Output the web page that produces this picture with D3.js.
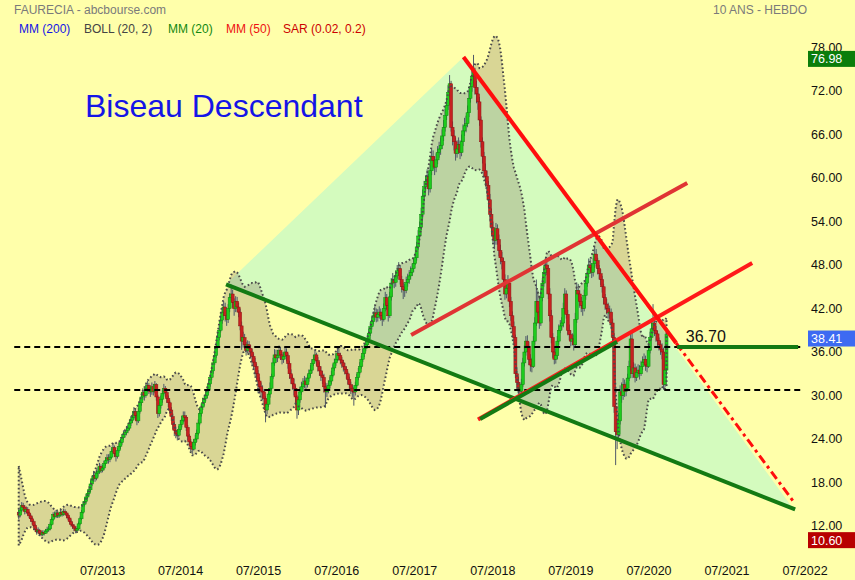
<!DOCTYPE html>
<html><head><meta charset="utf-8">
<script src="https://cdn.jsdelivr.net/npm/d3@7"></script>
<style>html,body{margin:0;padding:0;background:#ffffaa;} svg{display:block;font-family:"Liberation Sans",Arial,sans-serif;}</style>
</head><body>
<svg id="chart" width="855" height="580"></svg>
<script>
// ---------- DATA (weekly) ----------
const firstWeek = "2012-06-04";
// 19 weeks before the first visible candle (only feed the Bollinger start)
const warmupCloses = [20.6,20.0,19.6,18.4,17.2,16.0,15.0,14.2,13.5,13.0,12.6,12.2,12.7,13.2,12.5,12.1,12.6,13.2,13.9];
const closes = [
13.5,14.2,14.8,14.6,14.0,14.3,13.8,13.4,13.0,12.6,
12.1,11.5,11.2,11.4,11.0,10.8,11.1,11.0,11.3,11.5,
11.6,12.2,12.9,13.6,13.3,13.8,13.4,13.5,13.9,13.6,
14.0,13.8,13.5,13.1,12.6,12.2,12.0,11.7,11.4,11.6,
12.3,13.0,13.9,15.0,15.4,16.0,16.5,17.0,17.8,18.5,
19.0,18.6,19.3,19.5,20.2,19.7,20.0,20.6,21.0,21.4,
21.2,21.5,22.3,22.8,22.0,21.6,22.4,23.0,23.5,24.2,
24.6,24.9,25.2,25.5,26.2,26.6,27.0,27.8,27.2,26.5,
27.8,29.0,29.8,30.4,30.0,31.0,31.4,30.8,30.5,31.2,
30.6,31.5,29.8,27.5,28.6,29.5,30.3,31.0,30.4,29.6,
29.0,28.0,27.1,26.0,25.2,24.8,24.5,25.3,26.0,26.6,
27.2,27.0,25.6,24.4,23.6,23.0,22.6,23.5,24.0,24.8,
26.2,27.5,28.4,29.0,29.6,30.0,30.8,31.6,32.5,33.4,
34.5,35.5,36.8,38.0,39.0,40.4,41.5,42.2,41.0,40.5,
42.0,43.5,44.0,42.8,42.0,43.0,42.2,41.5,39.6,37.5,
38.0,37.0,36.2,37.0,36.5,36.0,35.4,34.6,34.0,33.0,
32.0,31.2,30.6,30.5,29.6,28.0,28.8,30.2,31.0,32.6,
34.5,35.6,35.2,35.5,36.2,35.6,35.0,35.4,36.0,35.5,
34.4,33.0,32.4,31.6,31.0,29.8,28.0,29.4,30.5,31.2,
31.6,32.0,31.5,32.4,33.0,33.5,34.4,35.0,35.6,34.8,
34.0,33.4,32.8,32.5,31.2,30.5,30.9,31.4,32.0,32.8,
33.8,34.5,35.0,35.8,35.5,34.9,34.5,34.0,33.6,33.0,
32.2,31.5,31.0,30.6,30.5,31.4,32.5,33.2,34.0,35.0,
35.8,36.5,37.0,37.8,38.6,39.5,40.2,41.0,41.4,40.8,
41.2,41.5,41.0,40.5,42.0,43.5,42.4,41.0,43.6,45.5,
46.0,45.6,46.5,47.2,47.5,46.0,45.0,44.6,44.5,45.6,
46.0,46.5,47.0,47.5,48.2,49.0,50.5,52.0,53.2,55.0,
57.5,58.8,59.5,60.2,58.5,61.0,63.0,62.4,61.5,62.5,
63.5,64.0,64.5,65.8,67.0,68.6,70.0,71.8,73.0,67.0,
65.8,65.0,63.4,64.0,64.6,63.5,65.0,66.5,67.2,67.5,
69.0,71.0,72.6,74.0,74.5,72.5,71.6,70.5,68.0,65.0,
63.0,61.0,60.2,59.0,57.0,55.0,53.2,52.0,51.4,53.0,
51.5,50.0,49.0,48.5,46.0,44.0,44.8,45.5,43.0,41.0,
39.5,38.0,33.0,31.8,31.0,30.6,31.5,34.5,36.0,37.5,
36.8,35.0,34.2,34.0,37.5,40.0,43.0,41.5,40.0,43.5,
45.5,47.0,48.0,47.5,44.0,41.0,38.0,36.0,35.0,35.5,
37.5,39.0,39.6,40.0,42.0,44.0,41.2,39.0,38.4,37.5,
37.8,37.0,40.5,44.5,44.0,43.0,42.4,42.0,43.8,45.5,
46.8,48.0,47.6,47.0,48.2,49.5,48.6,47.5,46.8,46.0,
45.0,43.5,42.6,42.0,41.4,41.5,40.0,38.0,28.5,25.0,
24.6,26.5,30.5,30.0,31.5,30.6,31.0,32.4,34.0,37.8,
33.0,33.8,32.5,33.2,33.5,33.0,34.0,34.6,35.0,34.2,
34.0,36.2,38.0,39.2,40.0,39.0,38.5,37.6,37.0,36.4,
36.0,31.5,33.5,38.41];
const highs = [
14.3,14.6,15.3,15.2,14.9,14.7,14.6,14.0,13.7,13.3,
12.8,12.3,11.8,11.8,11.6,11.3,11.4,11.4,11.6,11.9,
12.0,12.5,13.2,13.9,14.0,14.2,14.0,13.9,14.3,14.1,
14.4,14.3,14.0,13.7,13.3,12.9,12.5,12.2,11.9,12.0,
12.6,13.3,14.2,15.4,15.9,16.4,16.9,17.5,18.3,18.9,
19.6,19.4,19.8,20.1,20.7,20.5,20.4,21.0,21.5,21.9,
21.9,22.0,22.7,23.4,23.1,22.4,22.8,23.5,24.0,24.7,
25.2,25.4,25.8,26.0,26.7,27.2,27.5,28.4,28.2,27.5,
28.3,29.5,30.4,31.0,30.9,31.6,32.0,31.7,31.2,31.8,
31.6,32.0,31.7,30.1,29.1,30.0,30.8,31.6,31.3,30.7,
30.0,29.3,28.4,27.5,26.4,25.7,25.3,25.8,26.6,27.2,
27.8,27.8,27.3,25.9,24.7,24.0,23.4,24.0,24.6,25.3,
26.7,28.0,28.9,29.7,30.1,30.6,31.3,32.1,33.0,34.0,
35.1,36.2,37.4,38.7,39.7,41.0,42.2,43.0,42.8,41.8,
42.6,44.1,45.3,44.6,43.4,43.7,43.6,42.8,42.0,40.2,
38.8,38.5,37.4,37.6,37.5,37.0,36.4,35.8,35.2,34.4,
33.5,32.5,31.8,31.4,30.9,29.9,29.4,30.8,31.8,33.0,
35.2,36.4,36.3,36.3,36.9,36.7,36.0,35.9,36.7,36.5,
35.8,34.8,33.6,32.8,32.3,31.4,30.1,29.9,31.2,31.9,
32.4,32.7,32.5,32.9,33.6,34.2,35.0,35.6,36.4,35.9,
35.3,34.6,34.0,33.4,33.0,31.8,31.7,32.1,32.6,33.4,
34.3,35.1,35.8,36.6,36.5,35.9,35.3,34.9,34.5,34.0,
33.3,32.6,31.9,31.5,31.2,31.9,33.0,33.8,34.6,35.5,
36.4,37.2,37.6,38.4,39.2,40.1,40.8,41.6,42.3,42.0,
41.9,42.3,42.0,41.6,42.7,44.3,44.0,42.8,44.3,46.2,
46.9,46.6,47.2,48.0,48.4,48.0,46.5,45.6,45.4,46.4,
46.8,47.3,47.8,48.2,48.9,49.7,51.2,52.8,54.0,55.9,
58.4,59.6,60.4,61.2,60.6,61.8,64.0,63.8,63.0,63.4,
64.4,65.0,65.6,66.7,68.0,69.5,71.0,72.8,74.2,73.4,
67.8,66.6,65.6,65.2,65.6,65.2,66.0,67.4,68.3,68.6,
70.0,72.2,73.6,75.3,76.98,75.2,73.4,72.5,71.2,68.5,
65.6,63.6,62.0,61.0,59.6,57.8,55.8,54.0,53.0,53.8,
53.6,52.2,50.8,49.8,49.0,46.7,45.8,46.6,46.0,43.6,
41.6,40.2,38.4,33.9,32.6,31.8,32.3,35.2,36.9,38.2,
38.3,37.4,35.7,35.2,38.2,40.8,46.0,44.5,42.2,44.5,
46.2,47.8,49.0,48.8,48.0,44.8,41.8,38.6,36.6,36.5,
38.2,39.8,40.4,40.8,42.8,44.8,44.5,41.8,39.8,39.0,
38.6,38.4,41.4,45.6,45.4,44.5,43.6,43.0,44.6,46.2,
47.5,48.9,48.8,48.2,49.0,50.6,50.2,49.0,48.0,47.4,
46.5,45.4,44.0,43.3,42.8,42.4,42.0,40.6,38.6,29.4,
26.8,27.6,31.4,31.8,32.4,32.2,31.8,33.0,34.8,38.6,
38.6,34.6,34.4,34.0,34.3,34.2,34.8,35.4,35.8,35.5,
35.0,36.8,38.8,40.6,42.6,40.6,39.6,38.9,38.0,37.5,
37.2,36.6,34.6,39.2];
const lows = [
12.9,13.2,13.9,14.1,13.6,13.7,13.5,13.1,12.6,12.2,
11.8,11.2,10.8,10.9,10.6,10.6,10.6,10.7,10.9,11.1,
11.2,11.4,12.0,12.7,13.0,13.1,13.1,13.1,13.3,13.3,
13.4,13.5,13.1,12.8,12.3,11.9,11.6,11.3,11.0,11.1,
11.4,12.1,12.8,13.7,14.7,15.1,15.7,16.2,16.7,17.5,
18.1,18.1,18.3,18.8,19.2,19.3,19.4,19.7,20.3,20.6,
20.6,20.8,21.3,21.9,21.5,20.9,21.3,22.1,22.6,23.2,
23.9,24.2,24.5,24.8,25.2,25.8,26.2,26.7,26.6,25.9,
26.2,27.5,28.6,29.4,29.3,29.7,30.5,30.2,29.8,30.1,
30.0,30.3,29.3,26.9,27.1,28.2,29.0,30.0,29.8,29.0,
28.4,27.5,26.5,25.3,24.4,24.1,23.8,24.2,25.0,25.6,
26.3,26.4,25.1,23.8,23.0,22.3,21.9,22.4,23.1,23.6,
24.5,25.9,27.1,28.0,28.6,29.2,29.6,30.4,31.2,32.1,
33.0,34.2,35.2,36.5,37.6,38.7,39.9,41.0,40.2,39.6,
40.0,41.5,43.0,42.1,41.0,41.5,41.5,40.8,39.0,36.3,
36.6,36.4,35.5,35.8,35.7,35.2,34.2,33.6,32.7,32.2,
30.3,30.3,29.6,29.4,28.6,26.3,27.4,28.4,29.7,30.7,
32.3,34.1,34.5,34.6,35.1,34.9,34.3,34.5,35.0,34.7,
33.7,32.3,31.6,30.8,30.0,29.0,26.8,27.3,29.0,30.1,
30.6,31.0,30.8,31.1,31.9,32.6,33.1,34.1,34.6,34.1,
33.3,32.7,32.0,31.6,30.4,28.3,29.8,30.3,31.0,31.6,
32.5,33.4,34.1,34.7,34.8,34.3,33.8,33.3,32.9,32.3,
31.5,30.9,30.2,29.8,28.6,30.0,31.1,32.1,32.9,33.7,
34.6,35.3,36.1,36.6,37.4,38.2,39.1,39.8,40.4,40.1,
40.2,40.6,40.3,39.6,40.2,41.6,41.8,40.2,40.7,43.1,
44.9,44.8,45.0,46.1,46.5,45.3,44.2,43.3,43.6,44.1,
45.0,45.4,46.0,46.5,47.0,48.0,48.6,50.1,51.4,52.8,
54.4,56.8,58.2,58.8,57.6,58.0,60.4,61.2,60.4,60.8,
61.9,62.8,63.2,64.0,65.1,66.4,68.0,69.4,71.2,66.4,
64.5,63.8,62.4,62.8,63.3,62.6,63.0,64.4,65.8,66.3,
67.0,68.4,70.4,71.9,73.1,71.5,70.3,69.4,67.2,64.2,
62.0,60.0,58.8,57.8,55.9,54.0,52.2,50.9,50.2,50.8,
50.8,49.2,48.1,47.4,45.2,43.2,43.4,44.2,42.2,40.3,
38.8,37.2,32.4,30.8,30.2,29.8,30.1,31.2,34.0,35.5,
36.0,34.2,33.3,33.2,33.8,37.0,39.6,40.8,39.2,39.6,
43.0,45.0,46.5,46.6,43.3,40.2,37.2,35.2,34.3,34.4,
35.0,37.0,38.6,39.0,39.4,41.4,40.6,38.3,37.6,36.8,
36.9,36.2,36.6,40.0,43.0,42.1,41.5,41.0,41.6,43.2,
45.0,46.3,46.8,46.2,46.4,47.6,47.8,46.7,46.0,45.2,
44.2,42.6,41.8,41.2,40.6,40.6,39.2,37.2,27.6,20.4,
22.6,23.8,26.0,29.0,29.4,29.8,29.9,30.6,32.0,33.4,
32.4,32.5,31.8,32.0,32.6,32.2,32.7,33.5,34.0,33.4,
33.2,33.8,35.8,37.6,38.6,38.2,37.4,36.8,36.2,35.6,
35.0,30.8,31.2,32.8];

const yTicks = [12,18,24,30,36,42,48,54,60,66,72,78];
const xTickLabels = ["07/2013","07/2014","07/2015","07/2016","07/2017","07/2018","07/2019","07/2020","07/2021","07/2022"];
const legendLabels = ["MM (200)","BOLL (20, 2)","MM (20)","MM (50)","SAR (0.02, 0.2)"];
const legendColors = ["#1414e6","#444444","#118811","#ee1111","#cc0000"];
const headerLeft = "FAURECIA - abcbourse.com";
const headerRight = "10 ANS - HEBDO";
const chartTitle = "Biseau Descendant";

// drawing annotations, in (date, price)
const wedgeFill = [["2015-01-30",45.34],["2018-02-14",76.69],["2022-05-01",14.62]];
const levelLines = [
  {from:"2012-05-14", to:"2022-06-12", value:36.70},
  {from:"2012-05-14", to:"2022-06-12", value:30.76}
];
const trendLines = [
  {a:["2015-01-30",45.34], b:["2022-05-16",14.28], color:"#137a13", w:4, dash:null},
  {a:["2017-06-14",38.34], b:["2020-12-27",59.31], color:"#e03434", w:4, dash:null},
  {a:["2018-04-23",26.69], b:["2021-10-27",48.28], color:"#ff1a1a", w:4, dash:null},
  {a:["2018-05-03",26.76], b:["2020-02-03",37.42], color:"#137a13", w:4, dash:null},
  {a:["2018-02-14",76.69], b:["2020-11-05",37.24], color:"#ff0d0d", w:4, dash:null},
  {a:["2020-11-05",37.24], b:["2022-05-06",15.45], color:"#ff0d0d", w:3, dash:"9,4,3,4"},
  {a:["2020-11-10",36.70], b:["2022-05-30",36.70], color:"#137a13", w:4, dash:null}
];
const levelLabel = {date:"2020-12-20", value:36.70, text:"36.70"};

// ---------- CHART ----------
const W = 855, H = 580;
const svg = d3.select("#chart");
const parse = d3.timeParse("%Y-%m-%d");
svg.append("rect").attr("width",W).attr("height",H).attr("fill","#ffffaa");

const x = d3.scaleTime().domain([parse("2013-07-01"), parse("2022-07-01")]).range([102.5, 805]);
const y = d3.scaleLinear().domain([12,78]).range([526,47.5]);
const start = parse(firstWeek);
const dates = closes.map((c,i)=>d3.timeWeek.offset(start,i));
const opens = closes.map((c,i)=> i ? closes[i-1] : warmupCloses[warmupCloses.length-1]);

// wedge background
const line = d3.line().x(p=>p[0]).y(p=>p[1]);
svg.append("path")
  .attr("d", line(wedgeFill.map(p=>[x(parse(p[0])), y(p[1])])) + "Z")
  .attr("fill","#d4fbbe");

// Bollinger (20, 2)
const all = warmupCloses.concat(closes);
const boll = closes.map((c,i)=>{
  const w = all.slice(i, i+20);
  const m = d3.mean(w);
  const sd = Math.sqrt(d3.mean(w, v=>(v-m)*(v-m)));
  return {d:dates[i], up:m+2*sd, lo:m-2*sd};
});
const poly = boll.map(b=>[x(b.d), y(b.up)]).concat(boll.slice().reverse().map(b=>[x(b.d), y(b.lo)]));
const bandPath = line(poly) + "Z";
svg.append("path").attr("d", bandPath).attr("fill","rgba(140,130,105,0.33)");

// candles
const gw = svg.append("g");
const gb = svg.append("g");
closes.forEach((c,i)=>{
  const o = opens[i];
  const cx = x(dates[i]);
  const hi = Math.max(highs[i], o, c), lo = Math.min(lows[i], o, c);
  gw.append("line").attr("x1",cx).attr("x2",cx).attr("y1",y(hi)).attr("y2",y(lo))
    .attr("stroke","#4f5868").attr("stroke-width",1);
  const up = c >= o;
  const top = y(Math.max(o,c)), bot = y(Math.min(o,c));
  gb.append("rect").attr("x",cx-1.5).attr("width",3)
    .attr("y",top).attr("height",Math.max(1,bot-top))
    .attr("fill", up ? "#1ecb1e" : "#c62020")
    .attr("stroke", up ? "#0c8a0c" : "#8e1414").attr("stroke-width",0.5);
});

svg.append("path").attr("d", bandPath).attr("fill","none")
  .attr("stroke","#4a4a4a").attr("stroke-width",2).attr("stroke-dasharray","1.6,2.4");

// horizontal dashed levels
levelLines.forEach(l=>{
  svg.append("line").attr("x1",x(parse(l.from))).attr("x2",x(parse(l.to)))
    .attr("y1",y(l.value)).attr("y2",y(l.value))
    .attr("stroke","#000").attr("stroke-width",2).attr("stroke-dasharray","6,4");
});

// trend lines
trendLines.forEach(t=>{
  const s = svg.append("line")
    .attr("x1",x(parse(t.a[0]))).attr("y1",y(t.a[1]))
    .attr("x2",x(parse(t.b[0]))).attr("y2",y(t.b[1]))
    .attr("stroke",t.color).attr("stroke-width",t.w);
  if (t.dash) s.attr("stroke-dasharray",t.dash);
});

svg.append("text").attr("x",x(parse(levelLabel.date))).attr("y",y(levelLabel.value)-5)
  .attr("font-size",16).attr("fill","#111").text(levelLabel.text);

// title
svg.append("text").attr("x",85).attr("y",117).attr("font-size",32).attr("fill","#1515e6").text(chartTitle);

// header & legend
svg.append("text").attr("x",14).attr("y",13.5).attr("font-size",12).attr("fill","#7a7a7a").text(headerLeft);
svg.append("text").attr("x",713).attr("y",13.5).attr("font-size",12).attr("fill","#7a7a7a").text(headerRight);
const legendX = [19,84,168,226,283];
legendLabels.forEach((t,i)=>{
  svg.append("text").attr("x",legendX[i]).attr("y",33).attr("font-size",12).attr("fill",legendColors[i]).text(t);
});

// y axis labels
const fmt = d3.format(".2f");
svg.append("g").selectAll("text").data(yTicks).join("text")
  .attr("x",811).attr("y",d=>y(d)).attr("dy","0.35em")
  .attr("font-size",12.5).attr("fill","#111").text(d=>fmt(d));

// x axis labels
svg.append("g").selectAll("text").data(xTickLabels).join("text")
  .attr("x",d=>{const [m,yr]=d.split("/"); return x(new Date(+yr, +m-1, 1));})
  .attr("y",575).attr("text-anchor","middle")
  .attr("font-size",12.5).attr("fill","#111").text(d=>d);

// value boxes
const boxes = [
  {v:d3.max(highs), fill:"#0b7d0b"},
  {v:closes[closes.length-1], fill:"#3d6af2"},
  {v:d3.min(lows), fill:"#b80000"}
];
boxes.forEach(b=>{
  const yy = y(b.v) - 4;
  svg.append("rect").attr("x",808).attr("y",yy).attr("width",47).attr("height",16).attr("fill",b.fill);
  svg.append("text").attr("x",811).attr("y",yy+8).attr("dy","0.35em")
    .attr("font-size",12.5).attr("fill","#fff").text(fmt(b.v));
});
</script>
</body></html>
